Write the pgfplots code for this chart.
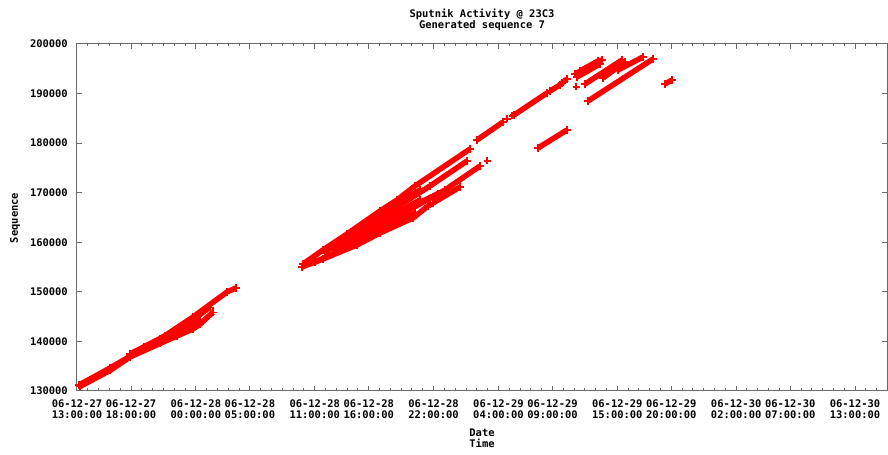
\documentclass[border=0pt]{standalone}
\usepackage{fontspec}
\setmainfont{DejaVu Sans Mono}
\usepackage{pgfplots}
\pgfplotsset{compat=1.18}

\definecolor{framegray}{HTML}{6A6A6A}
\newcommand{\gfont}{\fontsize{10.5}{11}\selectfont\bfseries}
\newcommand{\tfont}{\fontsize{10.5}{11.5}\selectfont\bfseries}

% one strand = packets from one source, sequence growing over time
\pgfplotsset{
  strand/.style={draw=red, line width=5.5bp, line join=round,
    mark=+, mark size=3.8bp, mark options={line width=1.2bp, draw=red, solid}},
  pts/.style={only marks, mark=+, mark size=3.5bp,
    mark options={line width=1.2bp, draw=red, solid}},
}

\begin{document}
\begin{tikzpicture}[x=1bp, y=1bp]
\useasboundingbox (-77,-64) rectangle (811,391);
% time axis: hours since 06-12-27 13:00:00
\begin{axis}[
  at={(0,0)}, anchor=south west,
  scale only axis, width=810.45bp, height=347bp,
  xmin=0, xmax=75, ymin=130000, ymax=200000,
  axis line style={draw=framegray, line width=1bp},
  every tick/.style={draw=framegray, line width=1bp},
  major tick length=5bp, minor tick length=2.5bp,
  tick align=inside,
  xtick={0,5,11,16,22,27,33,39,44,50,55,61,66,72},
  xticklabels={
    {06-12-27\\13:00:00},{06-12-27\\18:00:00},{06-12-28\\00:00:00},
    {06-12-28\\05:00:00},{06-12-28\\11:00:00},{06-12-28\\16:00:00},
    {06-12-28\\22:00:00},{06-12-29\\04:00:00},{06-12-29\\09:00:00},
    {06-12-29\\15:00:00},{06-12-29\\20:00:00},{06-12-30\\02:00:00},
    {06-12-30\\07:00:00},{06-12-30\\13:00:00}},
  minor xtick={0,1,...,75},
  ytick={130000,140000,150000,160000,170000,180000,190000,200000},
  yticklabels={130000,140000,150000,160000,170000,180000,190000,200000},
  scaled y ticks=false,
  tick label style={font=\tfont, text=black},
  xticklabel style={align=center, anchor=base, inner sep=0pt, yshift=-28bp},
  yticklabel style={anchor=east, inner sep=0pt, xshift=-9bp},
  clip=true,
]
% 27th, afternoon to early morning
\addplot[strand] coordinates {(0.185,131210) (3.054,134640) (7.681,140490) (10.735,144930) (13.881,149970) (14.714,150780)};
\addplot[strand] coordinates {(0.278,130908) (3.054,134135) (4.905,136859) (7.681,139582) (9.254,141095) (10.735,142507) (11.383,143500) (12.586,145900)};
\addplot[strand] coordinates {(4.905,137464) (8.144,141095) (11.383,144323)};
\addplot[strand] coordinates {(6.200,138900) (9.600,142600) (12.300,146900)};
% 28th, daytime burst
\addplot[strand] coordinates {(20.914,155620) (22.765,158444) (24.986,161672) (28.040,166311) (29.613,168530) (31.279,171355) (36.369,178819)};
\addplot[strand] coordinates {(20.822,155015) (22.765,156628) (25.911,159453) (28.040,161873) (31.094,164899) (32.482,167320)};
\addplot[strand] coordinates {(22.950,158040) (28.040,164899) (32.667,171355) (36.091,176398)};
\addplot[strand] coordinates {(23.876,158444) (28.040,163285) (34.055,170548) (37.294,175389)};
\addplot[strand] coordinates {(32.945,167925) (35.443,171153)};
\addplot[strand] coordinates {(22.025,156023) (25.264,159251) (28.040,162580) (31.279,165908)};
\addplot[strand] coordinates {(25.264,161268) (28.040,165605) (31.742,170548)};
\addplot[strand] coordinates {(24.801,159654) (28.040,164092) (31.742,168530)};
\addplot[strand] coordinates {(29.000,165200) (31.500,167800) (33.400,169800)};
\addplot[pts] coordinates {(37.942,176398) (32.667,167522)};
% 29th
\addplot[strand] coordinates {(37.016,180634) (39.423,184265)};
\addplot[pts] coordinates {(39.793,184871) (40.255,185476)};
\addplot[strand] coordinates {(40.440,185677) (43.494,190116)};
\addplot[strand] coordinates {(43.772,190519) (44.697,191729)};
\addplot[strand] coordinates {(44.882,192133) (45.345,192940)};
\addplot[strand] coordinates {(42.661,179020) (45.345,182652)};
\addplot[pts] coordinates {(46.178,191326)};
\addplot[strand] coordinates {(46.085,193948) (48.584,196772)};
\addplot[strand] coordinates {(46.270,193343) (48.399,195966)};
\addplot[strand] coordinates {(46.548,194554) (48.214,196571)};
\addplot[strand] coordinates {(47.288,188502) (53.304,196974)};
\addplot[strand] coordinates {(47.011,191931) (50.435,196772)};
\addplot[strand] coordinates {(48.677,193141) (50.713,196369)};
\addplot[strand] coordinates {(50.065,194755) (52.378,197378)};
\addplot[strand] coordinates {(54.414,191931) (55.062,192738)};
\end{axis}
% titles and axis labels
\node[font=\gfont, anchor=base] at (405,373.5) {Sputnik Activity @ 23C3};
\node[font=\gfont, anchor=base] at (405,362.5) {Generated sequence 7};
\node[font=\gfont, anchor=base] at (405,-46) {Date};
\node[font=\gfont, anchor=base] at (405,-57) {Time};
\node[font=\gfont, anchor=base, rotate=90] at (-59,173) {Sequence};
\end{tikzpicture}
\end{document}
